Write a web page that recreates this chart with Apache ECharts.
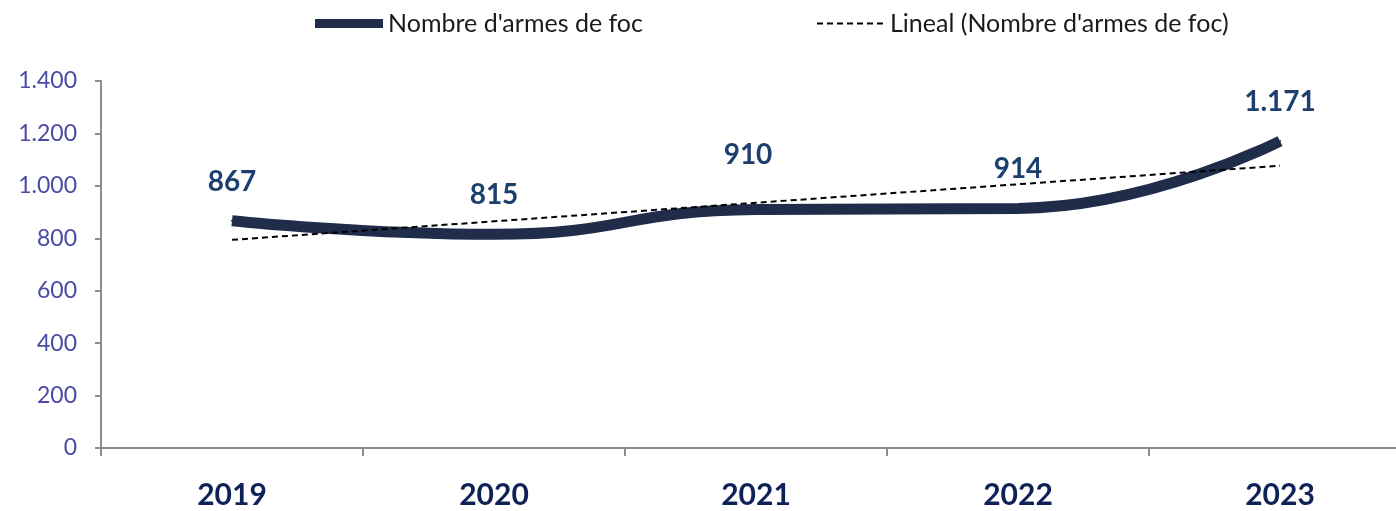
<!DOCTYPE html>
<html>
<head>
<meta charset="utf-8">
<script src="https://cdn.jsdelivr.net/npm/echarts@6/dist/echarts.min.js"></script>
<style>
  html, body { margin: 0; padding: 0; background: #ffffff; overflow: hidden; }
  #chart { width: 1411px; height: 511px; }
</style>
</head>
<body>
<div id="chart"></div>
<script>
// Years and yearly count of firearms
const years = ['2019', '2020', '2021', '2022', '2023'];
const weapons = [867, 815, 910, 914, 1171];
const yTicks = [0, 200, 400, 600, 800, 1000, 1200, 1400];

const seriesName = "Nombre d'armes de foc";
const trendName = "Lineal (Nombre d'armes de foc)";

// Least-squares linear trend over the yearly values
function linearTrend(values) {
  const n = values.length;
  const xs = values.map((_, i) => i + 1);
  const mx = xs.reduce((a, b) => a + b, 0) / n;
  const my = values.reduce((a, b) => a + b, 0) / n;
  let num = 0, den = 0;
  for (let i = 0; i < n; i++) {
    num += (xs[i] - mx) * (values[i] - my);
    den += (xs[i] - mx) * (xs[i] - mx);
  }
  const slope = num / den;
  return xs.map(x => my + slope * (x - mx));
}
const trend = linearTrend(weapons);

// Thousands separator with a dot
function fmt(v) {
  return String(v).replace(/\B(?=(\d{3})+(?!\d))/g, '.');
}

// Per-point label nudges
const labelOffsets = [[0, 0], [0, 0], [-8, -15], [0, 0], [0, 0]];

const font = 'Lato, "Noto Sans", sans-serif';
const navy = '#1f2d4a';
const chart = echarts.init(document.getElementById('chart'), null, { renderer: 'canvas' });

chart.setOption({
  backgroundColor: '#ffffff',
  animation: false,
  textStyle: { fontFamily: font },
  legend: [
    {
      data: [{ name: seriesName, icon: 'rect' }],
      left: 310, top: 6,
      itemWidth: 68, itemHeight: 9, itemGap: 10,
      textStyle: { fontSize: 25, color: '#1a1a1a', fontFamily: font },
      selectedMode: false
    },
    {
      data: [{ name: trendName, icon: 'path://M0,0h6v2h-6z M10,0h6v2h-6z M20,0h6v2h-6z M30,0h6v2h-6z M40,0h6v2h-6z M50,0h6v2h-6z M60,0h6v2h-6z' }],
      left: 812, top: 6,
      itemWidth: 70, itemHeight: 2, itemGap: 10,
      textStyle: { fontSize: 25, color: '#1a1a1a', fontFamily: font },
      itemStyle: { color: '#000000' },
      selectedMode: false
    }
  ],
  grid: { left: 101, right: 0, top: 81, bottom: 63, containLabel: false },
  xAxis: {
    type: 'category',
    data: years,
    boundaryGap: true,
    axisLine: { show: true, lineStyle: { color: '#8c8c8c', width: 2 } },
    axisTick: { show: true, length: 8, inside: false, lineStyle: { color: '#8c8c8c', width: 2 } },
    axisLabel: {
      margin: 32, fontSize: 30, fontWeight: 'bold', color: '#0f2257', fontFamily: font
    },
    splitLine: { show: false }
  },
  yAxis: {
    type: 'value',
    min: yTicks[0],
    max: yTicks[yTicks.length - 1],
    interval: 200,
    axisLine: { show: true, lineStyle: { color: '#8c8c8c', width: 2 } },
    axisTick: { show: true, length: 6, lineStyle: { color: '#8c8c8c', width: 2 } },
    axisLabel: {
      margin: 24, fontSize: 23, color: '#4a4aa6', fontFamily: font,
      formatter: v => fmt(v)
    },
    splitLine: { show: false }
  },
  series: [
    {
      name: seriesName,
      type: 'line',
      data: weapons.map((v, i) => ({
        value: v,
        label: { offset: labelOffsets[i] }
      })),
      smooth: 0.5,
      symbol: 'circle',
      symbolSize: 2,
      showSymbol: true,
      lineStyle: { color: navy, width: 11, cap: 'butt' },
      itemStyle: { color: navy },
      label: {
        show: true,
        position: 'top',
        distance: 24,
        fontSize: 28,
        fontWeight: 'bold',
        color: '#1c3f6e',
        fontFamily: font,
        formatter: p => fmt(p.value)
      },
      z: 2
    },
    {
      name: trendName,
      type: 'line',
      data: trend,
      symbol: 'none',
      lineStyle: { color: '#000000', width: 2, type: [6, 4] },
      itemStyle: { color: '#000000' },
      z: 3
    }
  ]
});
</script>
</body>
</html>
